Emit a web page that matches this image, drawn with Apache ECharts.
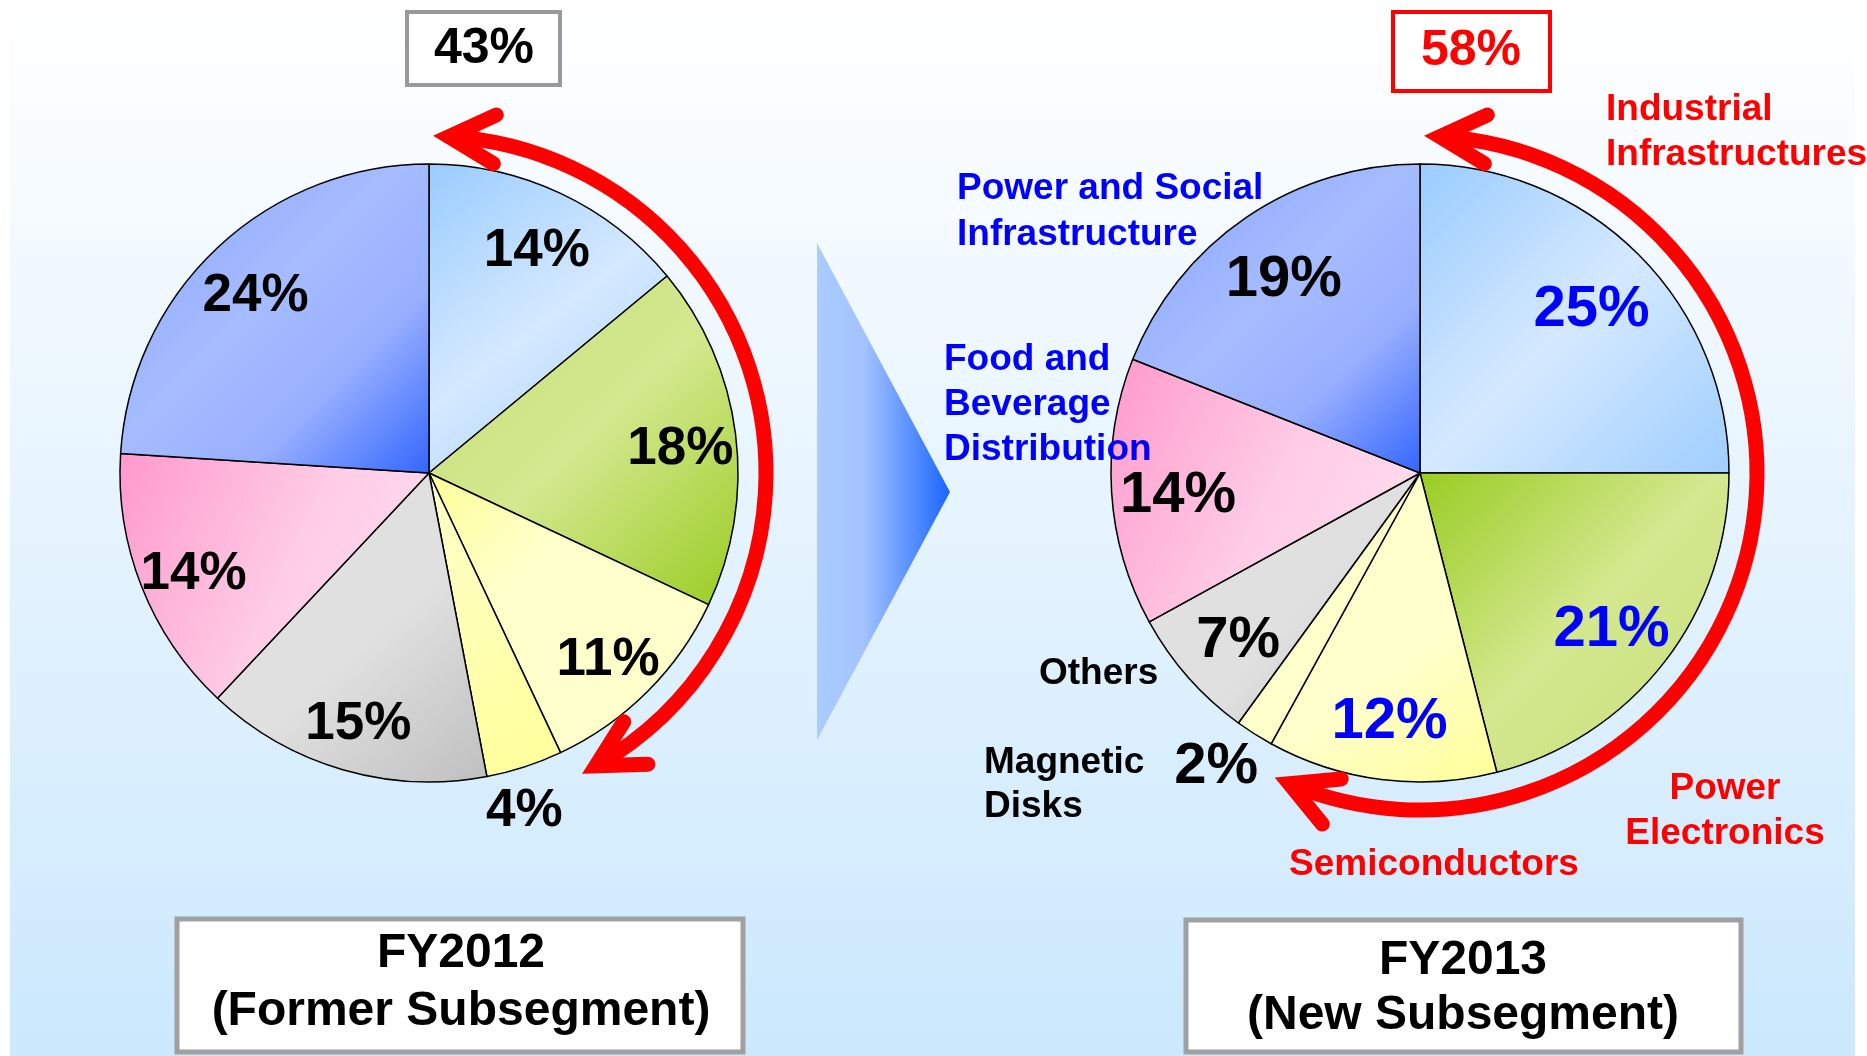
<!DOCTYPE html>
<html>
<head>
<meta charset="utf-8">
<title>Sales by subsegment FY2012 / FY2013</title>
<script src="https://cdn.jsdelivr.net/npm/echarts@6/dist/echarts.min.js"></script>
<style>
html, body { margin: 0; padding: 0; background: #ffffff; }
#main { width: 1867px; height: 1056px; }
</style>
</head>
<body>
<div id="main"></div>
<script type="text/javascript">
// slices run clockwise from 12 o'clock
var fy2012Names = ['Subsegment 1', 'Subsegment 2', 'Subsegment 3', 'Subsegment 4', 'Subsegment 5', 'Subsegment 6', 'Subsegment 7'];
var fy2012Values = [14, 18, 11, 4, 15, 14, 24];

var fy2013Names = ['Industrial\nInfrastructures', 'Power\nElectronics', 'Semiconductors', 'Magnetic\nDisks', 'Others', 'Food and\nBeverage\nDistribution', 'Power and Social\nInfrastructure'];
var fy2013Values = [25, 21, 12, 2, 7, 14, 19];

var periodTitles = ['FY2012\n(Former Subsegment)', 'FY2013\n(New Subsegment)'];
var arrowGroupSize = 3; // first slices covered by the red arrow

var FONT = '"Liberation Sans", Arial, sans-serif';
var R = 309;
var leftCenter = [429, 473];
var rightCenter = [1420, 473];

function grad(x2, y2, stops) {
    return {
        type: 'linear', x: 0, y: 0, x2: x2, y2: y2,
        colorStops: stops.map(function (s) { return { offset: s[0], color: s[1] } })
    }
}

var lightBlue = grad(1, 1, [[0, '#99ccff'], [0.5, '#d5e9ff'], [1, '#9fceff']])
var blue = grad(1, 1, [[0, '#89a4ff'], [0.45, '#a6bcff'], [0.7, '#98afff'], [1, '#3366ff']])
var pink = grad(1, 0.6, [[0, '#ff99cc'], [0.6, '#ffcce6'], [1, '#ffdcee']])
var grey = grad(1, 1, [[0, '#e0e0e0'], [0.55, '#e0e0e0'], [1, '#bfbfbf']])

var leftColors = [
    lightBlue,
    grad(1, 1, [[0, '#c6de78'], [0.5, '#d4e88f'], [1, '#99cc22']]),
    grad(1, 1, [[0, '#ffff99'], [0.35, '#ffffcc'], [1, '#ffffcc']]),
    grad(1, 1, [[0, '#ffffcc'], [1, '#ffff99']]),
    grey,
    pink,
    blue
]
var rightColors = [
    lightBlue,
    grad(1, 1, [[0, '#99cc22'], [0.5, '#d4e88f'], [1, '#c6de78']]),
    grad(1, 1, [[0, '#ffffcc'], [0.6, '#ffffcc'], [1, '#ffff99']]),
    '#ffffcc',
    grey,
    pink,
    blue
]

function sum(arr) { return arr.reduce(function (a, b) { return a + b }, 0) }

function pieSeries(center, names, values, colors) {
    return {
        type: 'pie',
        center: center,
        radius: [0, R],
        startAngle: 90,
        clockwise: true,
        silent: true,
        label: { show: false },
        labelLine: { show: false },
        emphasis: { disabled: true },
        itemStyle: { borderColor: '#000000', borderWidth: 1.5 },
        data: values.map(function (v, i) {
            return { value: v, name: names[i], itemStyle: { color: colors[i] } }
        })
    }
}

// transparent ring used only to place the percentage labels
function labelRing(center, inner, outer, names, values, size, colorFn, showFn, offset) {
    return {
        type: 'pie',
        center: center,
        radius: [inner, outer],
        startAngle: 90,
        clockwise: true,
        silent: true,
        z: 5,
        avoidLabelOverlap: false,
        emphasis: { disabled: true },
        labelLine: { show: false },
        itemStyle: { color: 'rgba(0,0,0,0)', borderWidth: 0 },
        data: values.map(function (v, i) {
            return {
                value: v, name: names[i],
                label: {
                    show: showFn(v), position: 'inside', formatter: '{c}%',
                    color: colorFn(i), fontSize: size, fontWeight: 'bold', fontFamily: FONT,
                    textBorderWidth: 0, offset: offset
                }
            }
        })
    }
}

function txt(text, x, y, size, color, align, lh) {
    return {
        type: 'text', z: 100, x: x, y: y, silent: true,
        style: {
            text: text, fill: color,
            font: 'bold ' + size + 'px ' + FONT,
            fontSize: size, fontWeight: 'bold', fontFamily: FONT,
            align: align || 'left', textAlign: align || 'left',
            verticalAlign: 'middle', textVerticalAlign: 'middle',
            lineHeight: lh || size
        }
    }
}

function box(x, y, w, h, stroke, lw) {
    return {
        type: 'rect', z: 90, silent: true,
        shape: { x: x, y: y, width: w, height: h },
        style: { fill: '#ffffff', stroke: stroke, lineWidth: lw }
    }
}

// red curved arrow, angles in degrees clockwise from 12 o'clock
function arcArrow(center, r, startDeg, endDeg) {
    var rad = Math.PI / 180
    var pt = function (d) { return [center[0] + r * Math.sin(d * rad), center[1] - r * Math.cos(d * rad)] }
    var head = function (d, dir) {
        var tip = pt(d)
        var back = Math.atan2(-dir * Math.sin(d * rad), -dir * Math.cos(d * rad))
        var arms = [28, -28].map(function (s) {
            var b = back + s * rad
            return [tip[0] + 52 * Math.cos(b), tip[1] + 52 * Math.sin(b)]
        })
        return {
            type: 'polyline', z: 100, silent: true,
            shape: { points: [arms[0], tip, arms[1]] },
            style: { stroke: '#ff0000', lineWidth: 15, lineJoin: 'miter', lineCap: 'round', fill: null }
        }
    }
    return [
        {
            type: 'arc', z: 100, silent: true,
            shape: { cx: center[0], cy: center[1], r: r, startAngle: (startDeg - 90) * rad, endAngle: (endDeg - 90) * rad, clockwise: true },
            style: { stroke: '#ff0000', lineWidth: 15, fill: null }
        },
        head(startDeg, -1),
        head(endDeg, 1)
    ]
}

var leftShare = sum(fy2012Values.slice(0, arrowGroupSize))
var rightShare = sum(fy2013Values.slice(0, arrowGroupSize))

var graphics = [
    {
        type: 'rect', z: 0, silent: true,
        shape: { x: 10, y: 0, width: 1845, height: 1056 },
        style: { fill: grad(0, 1, [[0, '#ffffff'], [1, '#cbe8fd']]) }
    },
    {
        type: 'polygon', z: 90, silent: true,
        shape: { points: [[817, 243], [950, 492], [817, 740]] },
        style: { fill: grad(1, 0, [[0, '#aaccff'], [0.35, '#a4c3ff'], [1, '#1a66ff']]) }
    },
    box(407, 12, 153, 73, '#999999', 4),
    txt(leftShare + '%', 484, 49, 50, '#000000', 'center'),
    box(1393, 12, 157, 79, '#ff0000', 4),
    txt(rightShare + '%', 1471, 51, 50, '#ff0000', 'center'),
    box(177, 919, 566, 133, '#a0a0a0', 5),
    txt(periodTitles[0], 461, 983, 48, '#000000', 'center', 58),
    box(1186, 920, 555, 132, '#a0a0a0', 5),
    txt(periodTitles[1], 1463, 988, 48, '#000000', 'center', 55),
    txt(fy2013Names[0], 1606, 132, 37, '#ff0000', 'left', 45),
    txt(fy2013Names[1], 1725, 811, 37, '#ff0000', 'center', 45),
    txt(fy2013Names[2], 1434, 865, 37, '#ff0000', 'center'),
    txt(fy2013Names[3], 984, 785, 37, '#000000', 'left', 44),
    txt(fy2013Names[4], 1039, 674, 37, '#000000', 'left'),
    txt(fy2013Names[5], 944, 405, 37, '#0000ff', 'left', 45),
    txt(fy2013Names[6], 957, 212, 37, '#0000ff', 'left', 46)
]
graphics = graphics
    .concat(arcArrow(leftCenter, 337, 3.4, leftShare * 3.6 - 4.5))
    .concat(arcArrow(rightCenter, 337, 3.4, rightShare * 3.6 - 6))

var isBig = function (v) { return v >= 5 }
var isSmall = function (v) { return v < 5 }
var black = function () { return '#000000' }
var rightLabelColor = function (i) { return i < arrowGroupSize ? '#0000ff' : '#000000' }

var option = {
    animation: false,
    backgroundColor: '#ffffff',
    graphic: { elements: graphics },
    series: [
        pieSeries(leftCenter, fy2012Names, fy2012Values, leftColors),
        pieSeries(rightCenter, fy2013Names, fy2013Values, rightColors),
        labelRing(leftCenter, 0.62 * R, R, fy2012Names, fy2012Values, 53, black, isBig, [0, 8]),
        labelRing(leftCenter, R, 1.27 * R, fy2012Names, fy2012Values, 53, black, isSmall, [-14, 2]),
        labelRing(rightCenter, 0.55 * R, R, fy2013Names, fy2013Values, 58, rightLabelColor, isBig, [0, 8]),
        labelRing(rightCenter, R, 1.25 * R, fy2013Names, fy2013Values, 58, black, isSmall, [-16, -2])
    ]
}

var myChart = echarts.init(document.getElementById('main'))
myChart.setOption(option)
</script>
</body>
</html>
